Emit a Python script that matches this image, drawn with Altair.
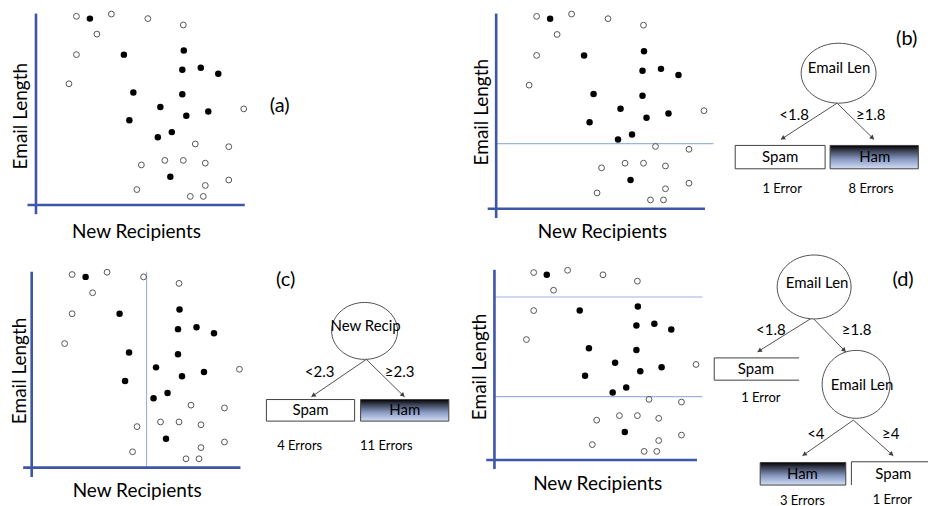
import math
import altair as alt
import pandas as pd

# ------------------------------------------------------------------
# Data (the same e-mails are shown in all panels)
# open circles = spam, filled circles = ham
# ------------------------------------------------------------------
SPAM_NEW_RECIP = [0.81, 1.51, 2.24, 2.95, 1.22, 0.81, 0.66, 4.16, 3.19, 3.86,
                  2.11, 2.58, 2.95, 3.39, 3.86, 3.39, 2.02, 3.09, 3.35]
SPAM_EMAIL_LEN = [4.54, 4.59, 4.49, 4.35, 4.15, 3.70, 3.06, 2.51, 1.74, 1.68,
                  1.28, 1.38, 1.38, 1.32, 0.95, 0.83, 0.74, 0.59, 0.59]
HAM_NEW_RECIP = [1.08, 1.76, 2.96, 2.93, 3.30, 3.65, 1.95, 2.93, 2.49, 3.01,
                 3.45, 1.87, 2.72, 2.44, 2.69]
HAM_EMAIL_LEN = [4.49, 3.70, 3.79, 3.37, 3.41, 3.28, 2.87, 2.83, 2.55, 2.36,
                 2.45, 2.26, 2.00, 1.89, 1.02]

EMAIL_SPLIT_1 = 1.8
EMAIL_SPLIT_2 = 4.0
RECIP_SPLIT = 2.3

X_TITLE = "New Recipients"
Y_TITLE = "Email Length"
PANEL_LABELS = ["(a)", "(b)", "(c)", "(d)"]

TREE_B_NODES = ["Email Len"]
TREE_B_EDGES = ["<1.8", "≥1.8"]
TREE_B_LEAVES = ["Spam", "Ham"]
TREE_B_ERRORS = ["1 Error", "8 Errors"]

TREE_C_NODES = ["New Recip"]
TREE_C_EDGES = ["<2.3", "≥2.3"]
TREE_C_LEAVES = ["Spam", "Ham"]
TREE_C_ERRORS = ["4 Errors", "11 Errors"]

TREE_D_NODES = ["Email Len", "Email Len"]
TREE_D_EDGES = ["<1.8", "≥1.8", "<4", "≥4"]
TREE_D_LEAVES = ["Spam", "Ham", "Spam"]
TREE_D_ERRORS = ["1 Error", "3 Errors", "1 Error"]

# ------------------------------------------------------------------
# Styling / layout
# ------------------------------------------------------------------
FONT = "Lato"
AXIS_BLUE = "#3d56a6"
SPLIT_BLUE = "#9db4df"
LINE_GREY = "#404040"

AX_X0, AX_E0 = 0.0, 0.4
AX_X_START, AX_X_END = -0.17, 4.18
AX_E_BOT, AX_E_TOP = 0.2, 4.6

HAM_GRADIENT = alt.Gradient(
    gradient="linear",
    stops=[alt.GradientStop(color="#000000", offset=0),
           alt.GradientStop(color="#34394a", offset=0.2),
           alt.GradientStop(color="#8a9bc4", offset=0.6),
           alt.GradientStop(color="#d4def5", offset=1)],
    x1=0, x2=0, y1=0, y2=1)

points = pd.DataFrame({
    "x": SPAM_NEW_RECIP + HAM_NEW_RECIP,
    "y": SPAM_EMAIL_LEN + HAM_EMAIL_LEN,
    "cls": ["spam"] * len(SPAM_NEW_RECIP) + ["ham"] * len(HAM_NEW_RECIP),
})


def scatter_panel(W, H, xdom, ydom, hsplits, hsplit_end, vsplits,
                  ytitle_pos, xtitle_pos):
    xs = alt.Scale(domain=xdom, nice=False, zero=False)
    ys = alt.Scale(domain=ydom, nice=False, zero=False)

    def enc_seg(ch):
        return ch.encode(
            x=alt.X("x:Q", scale=xs, axis=None), x2="x2:Q",
            y=alt.Y("y:Q", scale=ys, axis=None), y2="y2:Q")

    layers = []
    segs = []
    for e in hsplits:
        segs.append({"x": AX_X0, "x2": hsplit_end, "y": e, "y2": e})
    for v in vsplits:
        segs.append({"x": v, "x2": v, "y": AX_E0, "y2": AX_E_TOP})
    if segs:
        layers.append(enc_seg(alt.Chart(pd.DataFrame(segs)).mark_rule(
            color=SPLIT_BLUE, strokeWidth=1.2)))

    axes = pd.DataFrame([
        {"x": AX_X_START, "x2": AX_X_END, "y": AX_E0, "y2": AX_E0},
        {"x": AX_X0, "x2": AX_X0, "y": AX_E_BOT, "y2": AX_E_TOP},
    ])
    layers.append(enc_seg(alt.Chart(axes).mark_rule(
        color=AXIS_BLUE, strokeWidth=2.6)))

    pt = alt.Chart(points)
    layers.append(pt.transform_filter(alt.datum.cls == "spam").mark_point(
        shape="circle", filled=False, color="#555555", strokeWidth=1,
        size=34, opacity=1).encode(
        x=alt.X("x:Q", scale=xs, axis=None),
        y=alt.Y("y:Q", scale=ys, axis=None)))
    layers.append(pt.transform_filter(alt.datum.cls == "ham").mark_circle(
        color="black", size=42, opacity=1).encode(
        x=alt.X("x:Q", scale=xs, axis=None),
        y=alt.Y("y:Q", scale=ys, axis=None)))

    layers.append(alt.Chart(pd.DataFrame({"t": [Y_TITLE]})).mark_text(
        font=FONT, fontSize=19, angle=270, align="center", baseline="middle",
        color="black").encode(x=alt.value(ytitle_pos[0]),
                              y=alt.value(ytitle_pos[1]), text="t:N"))
    layers.append(alt.Chart(pd.DataFrame({"t": [X_TITLE]})).mark_text(
        font=FONT, fontSize=19, align="center", baseline="middle",
        color="black").encode(x=alt.value(xtitle_pos[0]),
                              y=alt.value(xtitle_pos[1]), text="t:N"))
    return alt.layer(*layers).properties(width=W, height=H)


def ellipse_shape(w, h):
    a = h / w
    return f"M-1,0A1,{a:.3f},0,1,1,1,0A1,{a:.3f},0,1,1,-1,0Z"


def tree_panel(W, H, label, label_pos, node_names=(), nodes=(), node_text=(),
               edge_names=(), edges=(), edge_text=(), leaf_names=(), boxes=(),
               leaf_text=(), err_names=(), err_text=()):
    xs = alt.Scale(domain=[0, W], nice=False, zero=False)
    ys = alt.Scale(domain=[0, H], nice=False, zero=False, reverse=True)
    X = lambda f: alt.X(f, scale=xs, axis=None)
    Y = lambda f: alt.Y(f, scale=ys, axis=None)
    layers = []

    def text_layer(names, pos, size):
        df = pd.DataFrame({"t": list(names), "x": [p[0] for p in pos],
                           "y": [p[1] for p in pos]})
        return alt.Chart(df).mark_text(
            font=FONT, fontSize=size, align="center", baseline="middle",
            color="black").encode(x=X("x:Q"), y=Y("y:Q"), text="t:N")

    if edges:
        edf = pd.DataFrame([{"x": s[0], "y": s[1], "ex": e[0], "ey": e[1]}
                            for s, e in edges])
        layers.append(alt.Chart(edf).mark_rule(
            color=LINE_GREY, strokeWidth=0.9).encode(
            x=X("x:Q"), y=Y("y:Q"), x2="ex:Q", y2="ey:Q"))
        layers.append(alt.Chart(edf).transform_calculate(
            dx="datum.ex-datum.x", dy="datum.ey-datum.y",
            ln="sqrt(datum.dx*datum.dx+datum.dy*datum.dy)",
            hx="datum.ex-2.2*datum.dx/datum.ln",
            hy="datum.ey-2.2*datum.dy/datum.ln",
            ang="(atan2(datum.dx,-datum.dy)*180/PI+360)%360",
        ).mark_point(shape="triangle-up", filled=True, color=LINE_GREY,
                     size=26, opacity=1).encode(
            x=X("hx:Q"), y=Y("hy:Q"), angle=alt.Angle("ang:Q", scale=None)))

    if nodes:
        ndf = pd.DataFrame([{"x": n[0], "y": n[1],
                             "shape": ellipse_shape(n[2], n[3]),
                             "size": n[2] ** 2} for n in nodes])
        layers.append(alt.Chart(ndf).mark_point(
            filled=True, fill="white", stroke="#505050", strokeWidth=1,
            opacity=1, fillOpacity=1).encode(
            x=X("x:Q"), y=Y("y:Q"),
            shape=alt.Shape("shape:N", scale=None),
            size=alt.Size("size:Q", scale=None)))
        layers.append(text_layer(node_names, node_text, 15))

    if boxes:
        bdf = pd.DataFrame([{"x": b[0], "x2": b[1], "y": b[2], "y2": b[3],
                             "kind": nm} for b, nm in zip(boxes, leaf_names)])
        layers.append(alt.Chart(bdf).transform_filter(
            alt.datum.kind == "Ham").mark_rect(fill=HAM_GRADIENT).encode(
            x=X("x:Q"), x2="x2:Q", y=Y("y:Q"), y2="y2:Q"))
        layers.append(alt.Chart(bdf).transform_filter(
            alt.datum.kind != "Ham").mark_rect(fill="white").encode(
            x=X("x:Q"), x2="x2:Q", y=Y("y:Q"), y2="y2:Q"))
        segs = []
        for b in boxes:
            x0, x1, y0, y1, sides = b
            if "t" in sides:
                segs.append({"x": x0, "x2": x1, "y": y0, "y2": y0})
            if "b" in sides:
                segs.append({"x": x0, "x2": x1, "y": y1, "y2": y1})
            if "l" in sides:
                segs.append({"x": x0, "x2": x0, "y": y0, "y2": y1})
            if "r" in sides:
                segs.append({"x": x1, "x2": x1, "y": y0, "y2": y1})
        layers.append(alt.Chart(pd.DataFrame(segs)).mark_rule(
            color=LINE_GREY, strokeWidth=1).encode(
            x=X("x:Q"), x2="x2:Q", y=Y("y:Q"), y2="y2:Q"))
        layers.append(text_layer(leaf_names, leaf_text, 15))

    if edge_names:
        layers.append(text_layer(edge_names, edge_text, 15))
    if err_names:
        layers.append(text_layer(err_names, err_text, 13))
    layers.append(text_layer([label], [label_pos], 20))
    return alt.layer(*layers).properties(width=W, height=H)


# column widths 250, 212, 240, 219 ; row heights 250, 248
# ---------------- top row ----------------
scatter_a = scatter_panel(250, 250, [-0.56, 4.44], [-0.805, 4.673],
                          [], 0, [], (13, 106), (128.7, 221.5))
label_a = tree_panel(212, 250, PANEL_LABELS[0], (22, 96))
scatter_b = scatter_panel(240, 250, [-0.534, 4.266], [-0.703, 4.671],
                          [EMAIL_SPLIT_1], 4.35, [], (12.5, 102), (133, 222))
TB = 10  # offset of tree (b) within its column
tree_b = tree_panel(
    219, 250, PANEL_LABELS[1], (187.7 + TB, 28.7),
    node_names=TREE_B_NODES, nodes=[(119.5 + TB, 63, 75, 60)],
    node_text=[(120 + TB, 58)],
    edge_names=TREE_B_EDGES,
    edges=[((118 + TB, 93), (61.7 + TB, 129.3)),
           ((118 + TB, 93), (155 + TB, 129.3))],
    edge_text=[(75 + TB, 104.7), (151.7 + TB, 104.7)],
    leaf_names=TREE_B_LEAVES,
    boxes=[(16 + TB, 106 + TB, 135.3, 158.7, "tblr"),
           (111 + TB, 199.3 + TB, 135.3, 158.7, "tblr")],
    leaf_text=[(61 + TB, 147), (155.7 + TB, 147)],
    err_names=TREE_B_ERRORS, err_text=[(63 + TB, 178.7), (152 + TB, 178.7)])

# ---------------- bottom row ----------------
scatter_c = scatter_panel(250, 248, [-0.474, 4.526], [-0.459, 4.852],
                          [], 0, [RECIP_SPLIT], (12.5, 111), (129.3, 231.5))
tree_c = tree_panel(
    212, 248, PANEL_LABELS[2], (28, 20.3),
    node_names=TREE_C_NODES, nodes=[(107, 71, 66, 57)],
    node_text=[(108, 66)],
    edge_names=TREE_C_EDGES,
    edges=[((108.7, 99.5), (53.7, 137)), ((108.7, 99.5), (147, 137))],
    edge_text=[(62, 112), (142, 112)],
    leaf_names=TREE_C_LEAVES,
    boxes=[(8.7, 97, 139.7, 161.3, "tblr"), (103, 191.3, 139.7, 161.3, "tblr")],
    leaf_text=[(52.8, 150.5), (147.2, 150.5)],
    err_names=TREE_C_ERRORS, err_text=[(42, 186), (128.7, 186)])
scatter_d = scatter_panel(240, 248, [-0.515, 4.433], [-0.654, 4.817],
                          [EMAIL_SPLIT_1, EMAIL_SPLIT_2], 4.29, [],
                          (11, 107), (128.3, 224.5))
tree_d = tree_panel(
    219, 248, PANEL_LABELS[3], (194, 20.3),
    node_names=TREE_D_NODES, nodes=[(105, 27, 74, 64), (147, 124.5, 68, 68)],
    node_text=[(108, 23), (153, 124.7)],
    edge_names=TREE_D_EDGES,
    edges=[((103.3, 57.7), (48.3, 92)), ((103.3, 57.7), (136.7, 92)),
           ((144.3, 160.3), (93.3, 196)), ((144.3, 160.3), (184.3, 196))],
    edge_text=[(61.7, 70), (147.5, 70.5), (106.7, 173.7), (181.7, 173.7)],
    leaf_names=TREE_D_LEAVES,
    boxes=[(5, 90, 98, 120.3, "tbl"), (51, 136.7, 202.7, 225.3, "tblr"),
           (142.3, 219, 202, 225.3, "tl")],
    leaf_text=[(46.7, 109.3), (93.3, 214.7), (184.3, 214.7)],
    err_names=TREE_D_ERRORS,
    err_text=[(51.7, 137.7), (93.3, 241), (183.3, 240.3)])

chart = alt.concat(
    scatter_a, label_a, scatter_b, tree_b,
    scatter_c, tree_c, scatter_d, tree_d,
    columns=4, spacing=0, bounds="flush",
).properties(padding=0).configure(
    font=FONT, view=alt.ViewConfig(stroke=None))

chart.save("out.html", embed_options={"renderer": "svg", "actions": False})
